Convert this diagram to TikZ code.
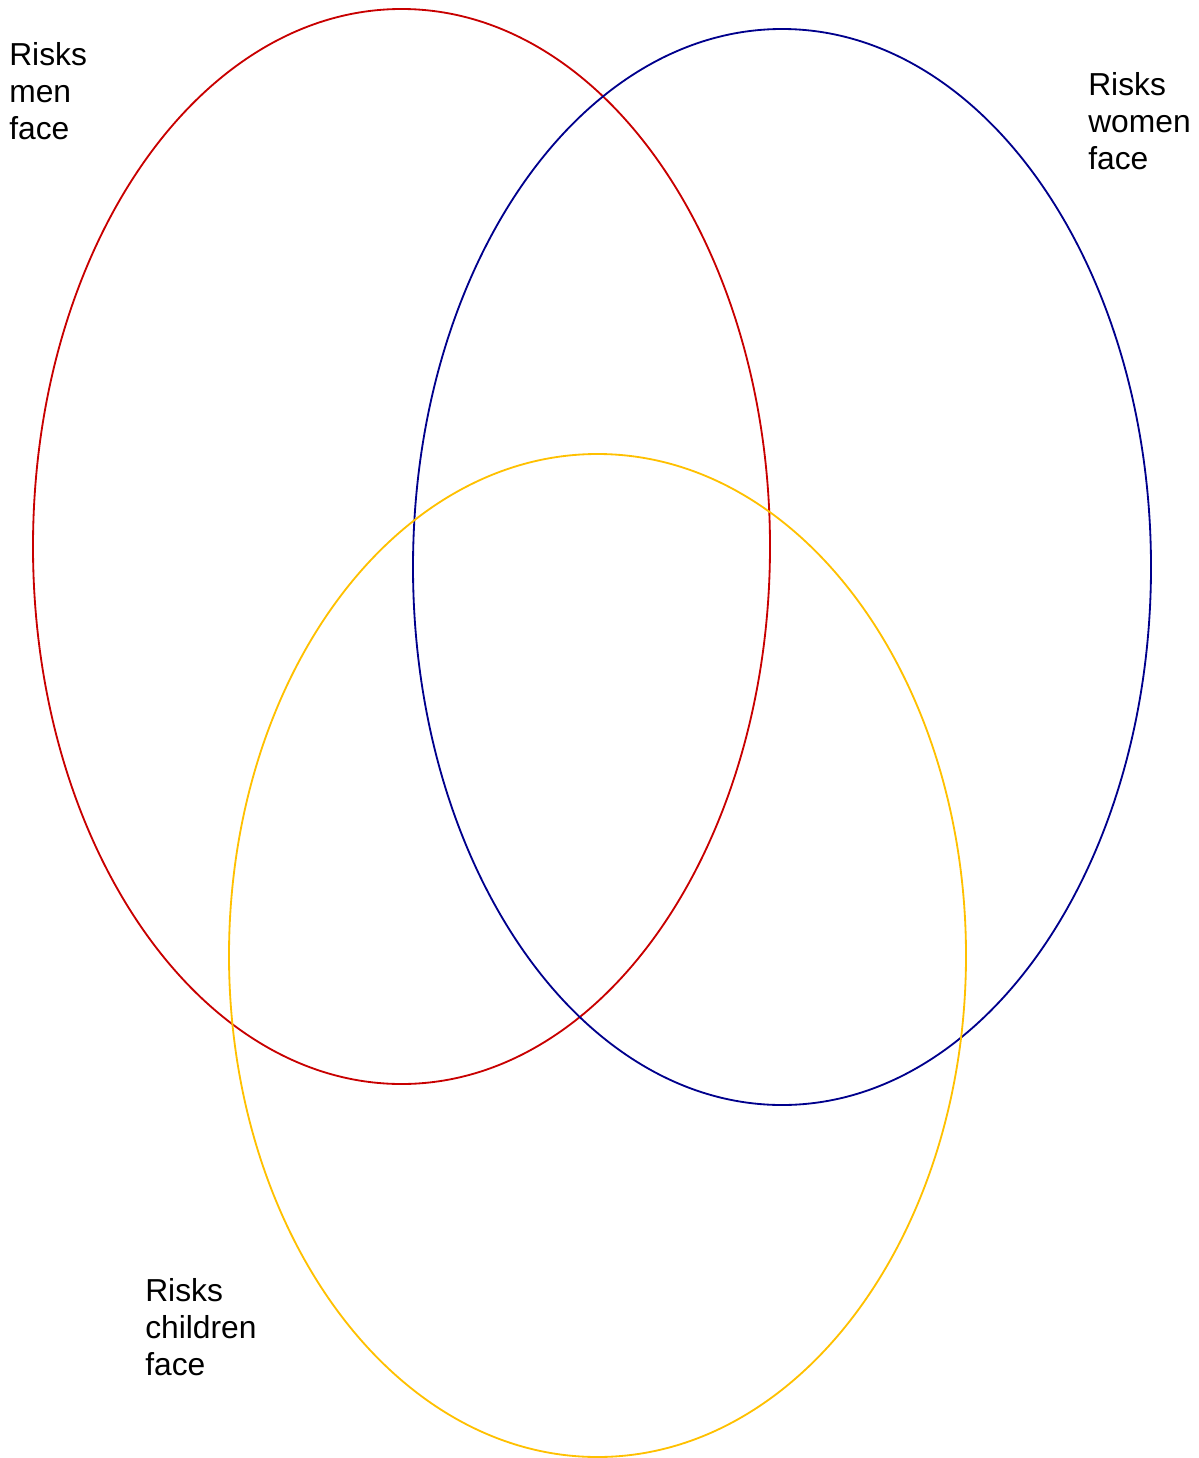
\documentclass[tikz,border=0pt]{standalone}
\usepackage{fontspec}
\setmainfont{Liberation Sans}
\definecolor{menred}{RGB}{200,0,0}
\definecolor{womenblue}{RGB}{0,0,140}
\definecolor{childyellow}{RGB}{255,192,0}
\tikzset{
  venn/.style={line width=1.3pt},
  risklabel/.style={anchor=north west, inner sep=0pt, align=left,
    font=\fontsize{22.6pt}{26.3pt}\selectfont}
}
\begin{document}
\begin{tikzpicture}[x=0.025cm, y=-0.025cm]
  % Cadre
  \useasboundingbox (0,0) rectangle (1198,1458);

  % Ellipses
  \draw[venn, menred] (401.5,546.5) ellipse [x radius=368.5, y radius=537.5];
  \draw[venn, womenblue] (782,567) ellipse [x radius=369, y radius=538];
  \draw[venn, childyellow] (597.5,955.5) ellipse [x radius=368.5, y radius=501.5];

  % Labels
  \node[risklabel] (men) at (9,42) {Risks\\men\\face};
  \node[risklabel] (women) at (1088,72) {Risks\\women\\face};
  \node[risklabel] (children) at (145,1278) {Risks\\children\\face};
\end{tikzpicture}
\end{document}
